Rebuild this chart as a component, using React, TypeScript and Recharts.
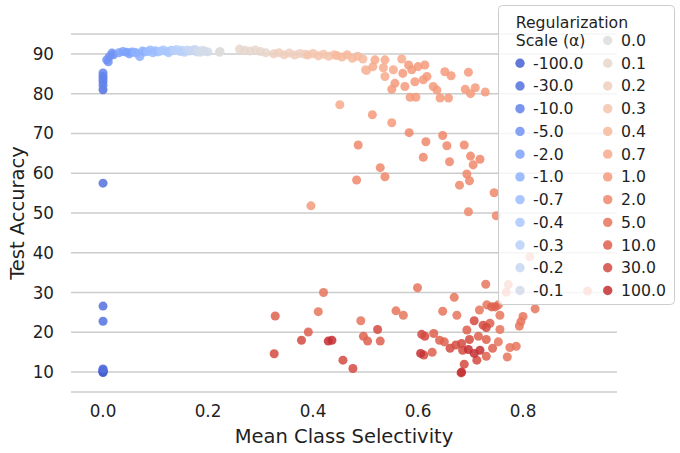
import React from 'react';
import { ScatterChart, Scatter, XAxis, YAxis, CartesianGrid, Legend, ZAxis, Label } from 'recharts';

// ---- data (x = mean class selectivity, y = test accuracy) ----
const sNeg100 = [{ x: 0, y: 10.0 }, { x: 0, y: 10.3 }, { x: 0, y: 9.9 }, { x: 0, y: 10.6 }, { x: 0, y: 10.2 }];
const sNeg30 = [{ x: 0, y: 22.8 }, { x: 0, y: 26.6 }, { x: 0, y: 57.5 }, { x: 0, y: 10.8 }, { x: 0, y: 81.0 }];
const sNeg10 = [{ x: 0, y: 82.1 }, { x: 0, y: 83.0 }, { x: 0, y: 83.7 }, { x: 0, y: 84.4 }, { x: 0, y: 85.2 }];
const sNeg5 = [{ x: 0.007, y: 88.5 }, { x: 0.012, y: 89.3 }, { x: 0.017, y: 90.2 }, { x: 0.02, y: 89.8 }, { x: 0.01, y: 88.0 }];
const sNeg2 = [{ x: 0.03, y: 90.3 }, { x: 0.038, y: 90.6 }, { x: 0.045, y: 90.4 }, { x: 0.05, y: 90.0 }, { x: 0.055, y: 90.5 }];
const sNeg1 = [{ x: 0.06, y: 90.4 }, { x: 0.064, y: 90.2 }, { x: 0.07, y: 89.3 }, { x: 0.075, y: 90.7 }, { x: 0.08, y: 90.5 }];
const sNeg07 = [{ x: 0.085, y: 90.6 }, { x: 0.09, y: 91.0 }, { x: 0.095, y: 90.3 }, { x: 0.1, y: 90.8 }, { x: 0.105, y: 90.5 }];
const sNeg04 = [{ x: 0.11, y: 90.7 }, { x: 0.115, y: 91.0 }, { x: 0.121, y: 90.6 }, { x: 0.125, y: 90.3 }, { x: 0.13, y: 90.9 }];
const sNeg03 = [{ x: 0.135, y: 90.8 }, { x: 0.14, y: 91.1 }, { x: 0.147, y: 90.6 }, { x: 0.15, y: 90.9 }, { x: 0.155, y: 90.4 }];
const sNeg02 = [{ x: 0.16, y: 91.0 }, { x: 0.165, y: 90.7 }, { x: 0.17, y: 90.9 }, { x: 0.175, y: 91.1 }, { x: 0.178, y: 90.5 }];
const sNeg01 = [{ x: 0.18, y: 90.8 }, { x: 0.185, y: 90.4 }, { x: 0.19, y: 90.9 }, { x: 0.195, y: 90.6 }, { x: 0.2, y: 90.5 }];
const sZero = [{ x: 0.222, y: 90.5 }, { x: 0.222, y: 90.4 }, { x: 0.223, y: 90.6 }];
const sP01 = [{ x: 0.26, y: 91.2 }, { x: 0.27, y: 90.9 }, { x: 0.28, y: 90.7 }, { x: 0.29, y: 91.0 }, { x: 0.3, y: 90.6 }, { x: 0.31, y: 90.3 }];
const sP02 = [{ x: 0.325, y: 90.0 }, { x: 0.335, y: 90.3 }, { x: 0.345, y: 89.8 }, { x: 0.355, y: 90.2 }, { x: 0.365, y: 89.7 }, { x: 0.375, y: 90.1 }, { x: 0.385, y: 89.9 }];
const sP03 = [{ x: 0.39, y: 89.7 }, { x: 0.4, y: 90.1 }, { x: 0.41, y: 89.5 }, { x: 0.42, y: 89.9 }, { x: 0.43, y: 89.4 }, { x: 0.44, y: 89.8 }];
const sP04 = [{ x: 0.445, y: 89.6 }, { x: 0.455, y: 89.2 }, { x: 0.465, y: 89.8 }, { x: 0.475, y: 88.9 }, { x: 0.485, y: 89.4 }, { x: 0.495, y: 88.7 }, { x: 0.5, y: 86.0 }, { x: 0.502, y: 85.8 }];
const sP07 = [{ x: 0.514, y: 86.8 }, { x: 0.518, y: 88.5 }, { x: 0.537, y: 88.5 }, { x: 0.534, y: 86.5 }, { x: 0.553, y: 86.0 }, { x: 0.569, y: 88.7 }, { x: 0.537, y: 84.3 }, { x: 0.451, y: 77.2 }];
const sP1 = [
  { x: 0.556, y: 82.6 }, { x: 0.55, y: 81.1 }, { x: 0.571, y: 85.1 }, { x: 0.575, y: 81.8 }, { x: 0.582, y: 87.2 },
  { x: 0.588, y: 86.0 }, { x: 0.6, y: 86.8 }, { x: 0.613, y: 87.2 }, { x: 0.594, y: 83.0 }, { x: 0.61, y: 83.5 },
  { x: 0.617, y: 84.3 }, { x: 0.629, y: 81.8 }, { x: 0.636, y: 80.9 }, { x: 0.585, y: 79.1 }, { x: 0.596, y: 79.1 },
  { x: 0.642, y: 78.9 }, { x: 0.658, y: 78.9 }, { x: 0.651, y: 85.5 }, { x: 0.663, y: 84.5 }, { x: 0.696, y: 85.4 },
  { x: 0.69, y: 81.1 }, { x: 0.709, y: 81.5 }, { x: 0.7, y: 80.0 }, { x: 0.728, y: 80.4 }, { x: 0.513, y: 74.7 },
  { x: 0.55, y: 72.7 }, { x: 0.396, y: 51.8 },
];
const sP2 = [
  { x: 0.583, y: 70.2 }, { x: 0.615, y: 67.9 }, { x: 0.647, y: 69.5 }, { x: 0.655, y: 66.9 }, { x: 0.688, y: 67.1 },
  { x: 0.486, y: 67.1 }, { x: 0.61, y: 64.0 }, { x: 0.66, y: 62.9 }, { x: 0.7, y: 64.3 }, { x: 0.718, y: 63.5 },
  { x: 0.705, y: 62.1 }, { x: 0.693, y: 59.8 }, { x: 0.698, y: 58.1 }, { x: 0.679, y: 57.0 }, { x: 0.745, y: 55.1 },
  { x: 0.696, y: 50.3 }, { x: 0.749, y: 49.3 }, { x: 0.528, y: 61.4 }, { x: 0.537, y: 59.1 }, { x: 0.483, y: 58.3 },
  { x: 0.813, y: 39.0 },
];
const sP5 = [
  { x: 0.599, y: 31.2 }, { x: 0.729, y: 32.1 }, { x: 0.669, y: 28.8 }, { x: 0.42, y: 30.0 }, { x: 0.41, y: 25.2 },
  { x: 0.558, y: 25.4 }, { x: 0.572, y: 24.3 }, { x: 0.491, y: 22.9 }, { x: 0.647, y: 25.3 }, { x: 0.674, y: 24.3 },
  { x: 0.823, y: 25.9 }, { x: 0.8, y: 24.0 }, { x: 0.796, y: 22.7 }, { x: 0.793, y: 21.6 }, { x: 0.731, y: 26.9 },
  { x: 0.753, y: 26.9 }, { x: 0.775, y: 16.2 }, { x: 0.787, y: 16.5 }, { x: 0.77, y: 13.8 }, { x: 0.753, y: 17.6 },
  { x: 0.756, y: 20.7 }, { x: 0.717, y: 25.6 }, { x: 0.756, y: 24.3 }, { x: 0.772, y: 32.0 }, { x: 0.768, y: 30.1 },
  { x: 0.923, y: 30.4 },
];
const sP10 = [
  { x: 0.328, y: 24.1 }, { x: 0.391, y: 20.1 }, { x: 0.496, y: 19.0 }, { x: 0.504, y: 17.8 }, { x: 0.528, y: 17.8 },
  { x: 0.63, y: 19.7 }, { x: 0.641, y: 18.0 }, { x: 0.65, y: 17.6 }, { x: 0.627, y: 15.0 }, { x: 0.693, y: 20.6 },
  { x: 0.737, y: 22.3 }, { x: 0.74, y: 26.4 }, { x: 0.747, y: 26.4 }, { x: 0.715, y: 19.0 }, { x: 0.73, y: 18.2 },
  { x: 0.742, y: 16.0 }, { x: 0.73, y: 14.0 },
];
const sP30 = [
  { x: 0.326, y: 14.6 }, { x: 0.378, y: 18.0 }, { x: 0.457, y: 13.0 }, { x: 0.476, y: 10.9 }, { x: 0.523, y: 20.7 },
  { x: 0.607, y: 19.5 }, { x: 0.613, y: 19.0 }, { x: 0.611, y: 14.3 }, { x: 0.661, y: 16.0 }, { x: 0.672, y: 16.8 },
  { x: 0.683, y: 17.2 }, { x: 0.698, y: 18.2 }, { x: 0.685, y: 15.5 }, { x: 0.707, y: 22.9 }, { x: 0.724, y: 21.8 },
  { x: 0.73, y: 21.2 }, { x: 0.688, y: 12.0 }, { x: 0.682, y: 9.8 }, { x: 0.712, y: 13.0 },
];
const sP100 = [
  { x: 0.429, y: 17.8 }, { x: 0.436, y: 18.0 }, { x: 0.605, y: 14.7 }, { x: 0.696, y: 15.7 }, { x: 0.718, y: 15.5 },
  { x: 0.707, y: 14.7 }, { x: 0.683, y: 10.0 },
];

const alphaLabels = [
  '-100.0', '-30.0', '-10.0', '-5.0', '-2.0', '-1.0', '-0.7', '-0.4', '-0.3', '-0.2', '-0.1',
  '0.0', '0.1', '0.2', '0.3', '0.4', '0.7', '1.0', '2.0', '5.0', '10.0', '30.0', '100.0',
];
const seriesData = [
  sNeg100, sNeg30, sNeg10, sNeg5, sNeg2, sNeg1, sNeg07, sNeg04, sNeg03, sNeg02, sNeg01,
  sZero, sP01, sP02, sP03, sP04, sP07, sP1, sP2, sP5, sP10, sP30, sP100,
];

const xTicks = [0, 0.2, 0.4, 0.6, 0.8];
const yTicks = [10, 20, 30, 40, 50, 60, 70, 80, 90];

// ---- coolwarm colormap (Moreland table) ----
const coolwarmTable = [
  [59, 76, 192], [68, 90, 204], [77, 104, 215], [87, 117, 225], [98, 130, 234], [108, 142, 241],
  [119, 154, 247], [130, 165, 251], [141, 176, 254], [152, 185, 255], [163, 194, 255], [174, 201, 253],
  [184, 208, 249], [194, 213, 244], [204, 217, 238], [213, 219, 230], [221, 221, 221], [229, 216, 209],
  [236, 211, 197], [241, 204, 185], [245, 196, 173], [247, 187, 160], [247, 177, 148], [247, 166, 135],
  [244, 154, 123], [241, 141, 111], [236, 127, 99], [229, 112, 88], [222, 96, 77], [213, 80, 66],
  [203, 62, 56], [192, 40, 47], [180, 4, 38],
];
function coolwarm(t: number): string {
  const n = coolwarmTable.length - 1;
  const p = Math.max(0, Math.min(1, t)) * n;
  const i = Math.min(n - 1, Math.floor(p));
  const f = p - i;
  const a = coolwarmTable[i];
  const b = coolwarmTable[i + 1];
  const c = a.map((v, k) => Math.round(v + (b[k] - v) * f));
  return `rgb(${c[0]},${c[1]},${c[2]})`;
}
const palette = alphaLabels.map((_, i) => coolwarm((i + 1) / (alphaLabels.length + 1)));

const FONT = '"DejaVu Sans", sans-serif';
const TEXT = '#1f1f1f';

const LegendBox = () => {
  const step = 22.73;
  const rowY = (k: number) => 35.5 + k * step;
  const items: React.ReactNode[] = [];
  alphaLabels.forEach((lab, i) => {
    const col = i < 11 ? 0 : 1;
    const k = col === 0 ? i + 1 : i - 11;
    const cy = rowY(k);
    const mx = col === 0 ? 22 : 109.7;
    const tx = col === 0 ? 35 : 123;
    items.push(
      <g key={lab}>
        <circle cx={mx} cy={cy} r={4.7} fill={palette[i]} fillOpacity={0.85} />
        <text x={tx} y={cy + 5.5} fontSize={15.7} fill={TEXT} fontFamily={FONT}>{lab}</text>
      </g>
    );
  });
  return (
    <svg width={177} height={300} style={{ display: 'block' }}>
      <rect x={0.5} y={0.5} width={176} height={299} rx={4} fill="#ffffff" fillOpacity={0.8} stroke="#cccccc" />
      <text x={17.7} y={17 + 5.5} fontSize={15.7} fill={TEXT} fontFamily={FONT}>Regularization</text>
      <text x={17.7} y={35.5 + 5.5} fontSize={15.7} fill={TEXT} fontFamily={FONT}>Scale (α)</text>
      {items}
    </svg>
  );
};

export default function App() {
  return (
    <div style={{ position: 'absolute', left: 0, top: 0, width: 680, height: 453, background: '#fff' }}>
      <ScatterChart width={680} height={453} margin={{ top: 34, right: 63, bottom: 0, left: 0 }}>
        <CartesianGrid vertical={false} stroke="#cccccc" strokeWidth={1.5} />
        <XAxis
          type="number"
          dataKey="x"
          domain={[-0.061, 0.979]}
          ticks={xTicks}
          allowDataOverflow
          tickFormatter={(v: number) => v.toFixed(1)}
          axisLine={false}
          tickLine={false}
          tickSize={0}
          tickMargin={13}
          height={61}
          tick={{ fontSize: 16.8, fill: TEXT, fontFamily: FONT }}
        >
          <Label value="Mean Class Selectivity" position="insideBottom" offset={10} fontSize={19.5} fill={TEXT} fontFamily={FONT} />
        </XAxis>
        <YAxis
          type="number"
          dataKey="y"
          domain={[5, 95]}
          ticks={yTicks}
          allowDataOverflow
          axisLine={false}
          tickLine={false}
          tickSize={0}
          tickMargin={17}
          width={71}
          tick={{ fontSize: 16.8, fill: TEXT, fontFamily: FONT }}
        >
          <Label
            content={() => (
              <text
                x={17}
                y={213}
                transform="rotate(-90, 17, 213)"
                textAnchor="middle"
                dominantBaseline="central"
                fontSize={19.5}
                fill={TEXT}
                fontFamily={FONT}
              >
                Test Accuracy
              </text>
            )}
          />
        </YAxis>
        <ZAxis range={[72, 72]} />
        {seriesData.map((d, i) => (
          <Scatter
            key={alphaLabels[i]}
            name={alphaLabels[i]}
            data={d}
            fill={palette[i]}
            fillOpacity={0.85}
            isAnimationActive={false}
          />
        ))}
        <Legend
          layout="horizontal"
          verticalAlign="middle"
          align="center"
          wrapperStyle={{ left: 498, top: 5, width: 177, height: 300 }}
          content={() => <LegendBox />}
        />
      </ScatterChart>
    </div>
  );
}
